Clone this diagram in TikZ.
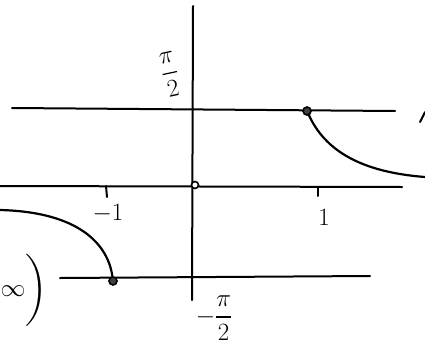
\documentclass[tikz,border=0pt]{standalone}
\usepackage{amsmath,amssymb}
\usetikzlibrary{positioning}

\begin{document}
\begin{tikzpicture}[
  x=1pt, y=-1pt,
  axis/.style={line width=2pt, line cap=round},
  branch/.style={line width=2.2pt, line cap=round},
  dot/.style={draw, circle, line width=1.6pt, fill=black!75, inner sep=0pt, minimum size=8pt},
  opendot/.style={draw, circle, line width=1.6pt, fill=white, inner sep=0pt, minimum size=7pt},
  lbl/.style={font=\fontsize{30}{32}\selectfont, inner sep=0pt},
  small/.style={font=\fontsize{26}{28}\selectfont, inner sep=0pt}
]
\useasboundingbox (0,0) rectangle (425,356);

% axes
\coordinate (xleft) at (0,186);
\coordinate (xright) at (402,187);
\coordinate (ytop) at (193,6);
\coordinate (ybot) at (192,300);
\draw[axis] (xleft) -- (xright);
\draw[axis] (ytop) -- (ybot);

% asymptotes
\coordinate (upleft) at (12,108);
\coordinate (upright) at (395,111);
\coordinate (lowleft) at (60,278);
\coordinate (lowright) at (370,276);
\draw[axis] (upleft) -- (upright);
\draw[axis] (lowleft) -- (lowright);

% ticks
\coordinate (tickm) at (106,186);
\coordinate (tickp) at (318,187);
\draw[axis] (tickm) -- ++(1,11);
\draw[axis] (tickp) -- ++(0,9);
\node[small] (lblm) at (108,214) {$-1$};
\node[small] (lblp) at (324,217) {$1$};

% axis labels
\node[lbl, rotate=12] (halfpi) at (170,74) {$\dfrac{\pi}{2}$};
\node[lbl] (mhalfpi) at (214,318) {$-\dfrac{\pi}{2}$};
\node[lbl] (interval) at (24,290) {$\infty\bigg)$};

% points
\node[dot] (ptup) at (307,111) {};
\node[opendot] (ptorig) at (195,185) {};
\node[dot] (ptlow) at (113,281) {};

% branches
\coordinate (rightend) at (425,177);
\coordinate (leftend) at (0,210);
\draw[branch] (ptup) .. controls (325,150) and (360,172) .. (rightend);
\draw[branch] (ptlow) .. controls (108,245) and (80,212) .. (leftend);

% stroke at right edge
\coordinate (edgea) at (420,122);
\coordinate (edgeb) at (425,112);
\draw[axis] (edgea) -- (edgeb);

\end{tikzpicture}
\end{document}
